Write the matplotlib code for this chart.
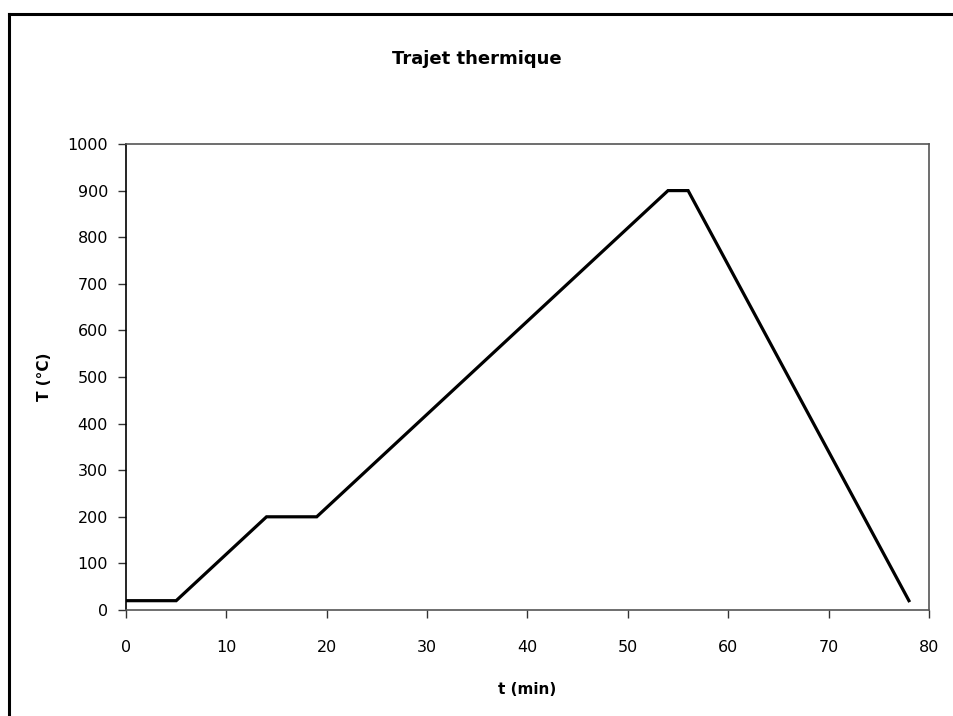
import matplotlib.pyplot as plt
from matplotlib.lines import Line2D

# temperature path
t_min = [0, 5, 14, 19, 54, 56, 78]
temp_c = [20, 20, 200, 200, 900, 900, 20]

x_ticks = [0, 10, 20, 30, 40, 50, 60, 70, 80]
y_ticks = [0, 100, 200, 300, 400, 500, 600, 700, 800, 900, 1000]

plt.rcParams['font.family'] = ['DejaVu Sans']

fig = plt.figure(figsize=(9.54, 7.16), dpi=100)

# outer frame (only top and left edges are visible)
fig.add_artist(Line2D([9.5 / 954, 1.0], [1 - 13.5 / 716] * 2, color='black', lw=2.2))
fig.add_artist(Line2D([9.5 / 954] * 2, [0.0, 1 - 13.5 / 716], color='black', lw=2.2))

ax = fig.add_axes([126 / 954, 1 - 610 / 716, 803 / 954, 466 / 716])
ax.plot(t_min, temp_c, color='black', lw=2.3, solid_joinstyle='miter')

ax.set_xlim(0, 80)
ax.set_ylim(0, 1000)
ax.set_xticks(x_ticks)
ax.set_yticks(y_ticks)
ax.tick_params(direction='out', length=6, width=1, labelsize=11.5, colors='#333333', labelcolor='black')
ax.tick_params(axis='x', pad=15.5)
ax.tick_params(axis='y', pad=7)

for side in ['bottom', 'top', 'right']:
    ax.spines[side].set_color('#555555')
    ax.spines[side].set_linewidth(1.2)
ax.spines['left'].set_color('black')
ax.spines['left'].set_linewidth(1.2)

ax.set_xlabel('t (min)', fontsize=11, fontweight='bold', labelpad=19.5)
ax.set_ylabel('T (°C)', fontsize=11, fontweight='bold', labelpad=11)
fig.text(0.5, 1 - 59 / 716, 'Trajet thermique', ha='center', va='center',
         fontsize=13, fontweight='bold')

fig.savefig('out.png', dpi=100)
